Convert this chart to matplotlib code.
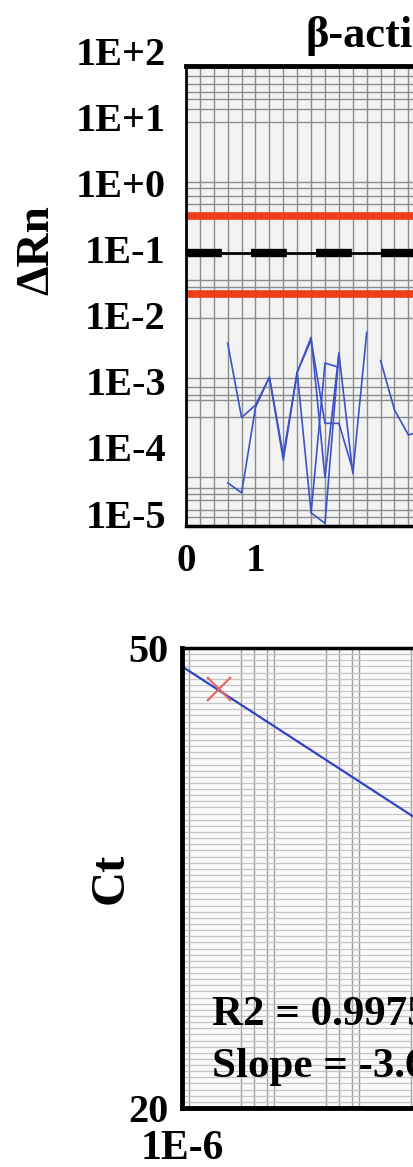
import matplotlib.pyplot as plt
import numpy as np
from matplotlib.ticker import FixedLocator, MultipleLocator, LogLocator, NullLocator, NullFormatter

plt.rcParams['font.family'] = ['Liberation Serif', 'DejaVu Serif']
plt.rcParams['font.weight'] = 'bold'

# amplification plot, delta Rn of the wells (x in the plot's own units)
well1_x = [0.6, 0.8, 1.0, 1.2, 1.4, 1.6, 1.8, 2.0, 2.2, 2.4, 2.6]
well1_rn = [4.4e-3, 3.3e-4, 5.1e-4, 1.35e-3, 7.5e-5, 1.6e-3, 5.4e-3, 4.1e-5, 3.1e-3, 4.7e-5, 6.4e-3]
well2_x = [0.6, 0.8, 1.0, 1.2, 1.4, 1.6, 1.8, 2.0, 2.2]
well2_rn = [3.4e-5, 2.4e-5, 4.7e-4, 1.35e-3, 8.9e-5, 1.6e-3, 1.2e-5, 2.2e-3, 1.9e-3]
well3_x = [1.6, 1.8, 2.0, 2.2, 2.4]
well3_rn = [1.6e-3, 4.9e-3, 2.7e-4, 2.7e-4, 5.3e-5]
well4_x = [1.8, 2.0, 2.2]
well4_rn = [1.2e-5, 8.3e-6, 3.1e-3]
well5_x = [2.8, 3.0, 3.2, 3.4]
well5_rn = [2.4e-3, 4.3e-4, 1.8e-4, 2.1e-4]

threshold = 0.1
band_hi = 0.37
band_lo = 0.024

# standard curve
std_qty = [2.7e-6]
std_ct = [47.3]
fit_qty = [1e-6, 1e-3]
fit_ct = [48.8, 38.0]

title = 'β-actin'
r2_text = 'R2 = 0.9975'
slope_text = 'Slope = -3.61'

# horizontal grid of the top panel (log10 of delta Rn), as drawn in the original
grid_exp = [1.68, 1.56, 1.44, 1.33, 1.18, 0.99, 0.08, -0.01, -0.13, -0.25,
            -1.40, -1.51, -1.98, -2.89, -3.02, -3.14, -3.22, -3.48,
            -4.38, -4.54, -4.63, -4.73, -4.88, -4.99]

W, H = 414, 1167
fig = plt.figure(figsize=(W / 100, H / 100), dpi=100)

# ---- top: amplification plot
ax1 = fig.add_axes([186 / W, 1 - 526 / H, 556 / W, 460 / H])
ax1.set_yscale('log')
ax1.set_ylim(7.57e-6, 68.2)
ax1.set_xlim(0, 8)
ax1.set_facecolor('#f2f2f2')

ax1.yaxis.set_major_locator(NullLocator())
ax1.yaxis.set_minor_locator(FixedLocator(10.0 ** np.array(grid_exp)))
ax1.yaxis.set_minor_formatter(NullFormatter())
ax1.set_xticks([0, 1])
ax1.set_xticklabels(['0', '1'])
ax1.xaxis.set_minor_locator(MultipleLocator(0.2))
ax1.grid(True, which='both', color='#8c8c8c', lw=1.0)
ax1.set_axisbelow(True)
ax1.tick_params(which='both', length=0)
ax1.tick_params(axis='x', labelsize=28, pad=12)

for xs, ys in [(well1_x, well1_rn), (well2_x, well2_rn), (well3_x, well3_rn),
               (well4_x, well4_rn), (well5_x, well5_rn)]:
    ax1.plot(xs, ys, color='#3f52c6', lw=1.2)

ax1.axhline(band_hi, color='#ee3d1b', lw=5.5)
ax1.axhline(band_lo, color='#ee3d1b', lw=5.5)
ax1.axhline(threshold, color='black', lw=2)
ax1.axhline(threshold, color='black', lw=6, linestyle=(0, (4.3, 3.5)))

for k in range(2, -6, -1):
    ax1.text(-0.036, 10.0 ** k, f'1E{k:+d}', transform=ax1.get_yaxis_transform(),
             ha='right', va='center', fontsize=29, clip_on=False)

ax1.spines['top'].set_linewidth(3.5)
ax1.spines['left'].set_linewidth(2)
ax1.spines['bottom'].set_linewidth(2.5)

fig.text(305 / W, 1 - 47 / H, title, ha='left', va='baseline', fontsize=32)
fig.text(37 / W, 1 - 250 / H, 'ΔRn', rotation=90, ha='center', va='center', fontsize=34)

# ---- bottom: standard curve
ax2 = fig.add_axes([182 / W, 1 - 1108 / H, 510 / W, 460 / H])
ax2.set_xscale('log')
ax2.set_xlim(1e-6, 1e0)
ax2.set_ylim(20, 50)
ax2.set_facecolor('#fafafa')

ax2.set_yticks([20, 50])
ax2.set_yticklabels(['20', '50'])
ax2.set_xticks([1e-6])
ax2.set_xticklabels(['1E-6'])
ax2.xaxis.set_minor_locator(LogLocator(base=10, subs=(1.0, 1.2, 5.0, 7.0), numticks=30))
ax2.xaxis.set_minor_formatter(NullFormatter())
ax2.yaxis.set_minor_locator(MultipleLocator(0.4))
ax2.grid(True, axis='y', which='both', color='#c4c4c4', lw=0.9)
ax2.grid(True, axis='x', which='both', color='#a0a0a0', lw=1.0)
ax2.set_axisbelow(True)
ax2.tick_params(which='both', length=0)
ax2.tick_params(axis='y', labelsize=29, pad=10)
ax2.tick_params(axis='x', labelsize=30, pad=16)

ax2.plot(fit_qty, fit_ct, color='#3441c4', lw=1.6)
ax2.plot(std_qty, std_ct, 'x', color='#e06a6a', ms=17, mew=1.6)

ax2.spines['top'].set_linewidth(2.5)
ax2.spines['left'].set_linewidth(3.5)
ax2.spines['bottom'].set_linewidth(3.5)

fig.text(212 / W, 1 - 1025 / H, r2_text, ha='left', va='baseline', fontsize=31)
fig.text(212 / W, 1 - 1077 / H, slope_text, ha='left', va='baseline', fontsize=31)
fig.text(111 / W, 1 - 878 / H, 'Ct', rotation=90, ha='center', va='center', fontsize=35)

fig.savefig('out.png', dpi=100)
